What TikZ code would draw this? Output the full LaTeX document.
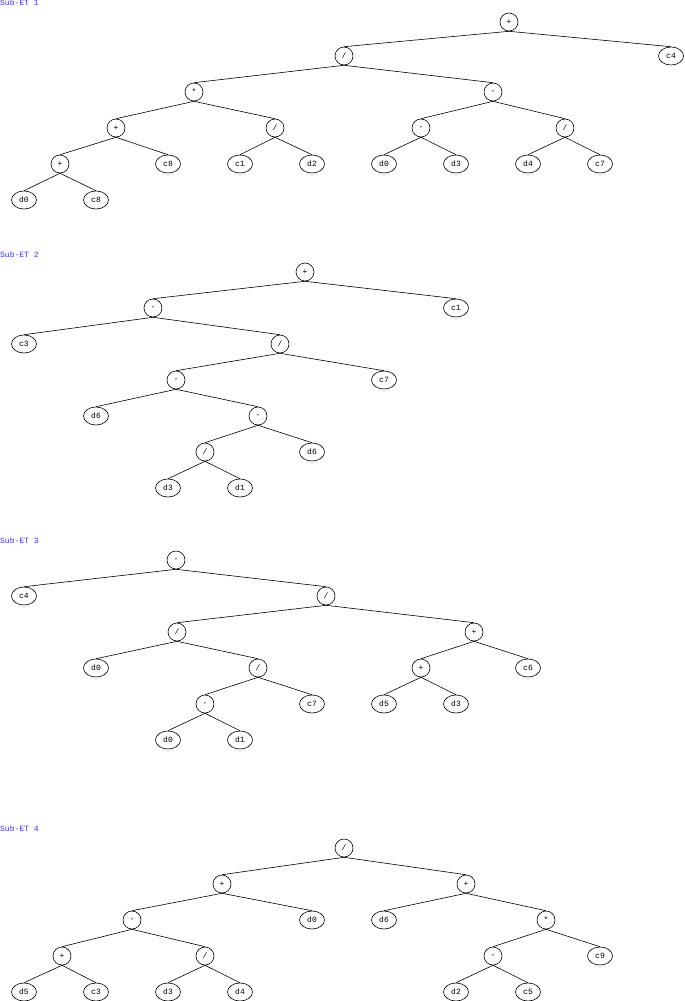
\documentclass[tikz,border=0pt]{standalone}
\usepackage{fontspec}
\setmonofont{Liberation Mono}
\usetikzlibrary{positioning,shapes}

\begin{document}
\begin{tikzpicture}[x=1pt, y=-1pt,
op/.style={circle, draw=black, semithick, minimum size=18pt, inner sep=0pt, font=\fontsize{8}{9}\selectfont\ttfamily},
leaf/.style={ellipse, draw=black, semithick, minimum width=25pt, minimum height=18pt, inner sep=0pt, font=\fontsize{8}{9}\selectfont\ttfamily},
title/.style={anchor=north west, inner sep=0pt, text=blue!80, font=\fontsize{8}{9}\selectfont\ttfamily},
edge/.style={black, semithick},
]
\useasboundingbox (0,0) rectangle (685,1001);

%Sub-ET 1
\node[title] (t1) at (0,0) {Sub-ET 1};
\node[op] (a1) at (509,22) {+};
\node[op] (a2) at (344,56) {/};
\node[leaf] (a3) at (671,56) {c4};
\node[op] (a4) at (194,92) {*};
\node[op] (a5) at (493,92) {-};
\node[op] (a6) at (116,128) {+};
\node[op] (a7) at (275,128) {/};
\node[op] (a8) at (421,128) {-};
\node[op] (a9) at (565,128) {/};
\node[op] (a10) at (60,164) {+};
\node[leaf] (a11) at (168,164) {c8};
\node[leaf] (a12) at (240,164) {c1};
\node[leaf] (a13) at (312,164) {d2};
\node[leaf] (a14) at (384,164) {d0};
\node[leaf] (a15) at (456,164) {d3};
\node[leaf] (a16) at (528,164) {d4};
\node[leaf] (a17) at (600,164) {c7};
\node[leaf] (a18) at (24,200) {d0};
\node[leaf] (a19) at (96,200) {c8};
\foreach \p/\c in {a1/a2,a1/a3,a2/a4,a2/a5,a4/a6,a4/a7,a5/a8,a5/a9,a6/a10,a6/a11,a7/a12,a7/a13,a8/a14,a8/a15,a9/a16,a9/a17,a10/a18,a10/a19}
  \draw[edge] (\p.south) -- (\c.north);

%Sub-ET 2
\node[title] (t2) at (0,251) {Sub-ET 2};
\node[op] (b1) at (305,272) {+};
\node[op] (b2) at (153,308) {-};
\node[leaf] (b3) at (456,308) {c1};
\node[leaf] (b4) at (24,344) {c3};
\node[op] (b5) at (280,344) {/};
\node[op] (b6) at (176,380) {-};
\node[leaf] (b7) at (384,380) {c7};
\node[leaf] (b8) at (96,416) {d6};
\node[op] (b9) at (258,416) {-};
\node[op] (b10) at (205,452) {/};
\node[leaf] (b11) at (312,452) {d6};
\node[leaf] (b12) at (168,488) {d3};
\node[leaf] (b13) at (240,488) {d1};
\foreach \p/\c in {b1/b2,b1/b3,b2/b4,b2/b5,b5/b6,b5/b7,b6/b8,b6/b9,b9/b10,b9/b11,b10/b12,b10/b13}
  \draw[edge] (\p.south) -- (\c.north);

%Sub-ET 3
\node[title] (t3) at (0,537) {Sub-ET 3};
\node[op] (c1) at (176,560) {-};
\node[leaf] (c2) at (24,596) {c4};
\node[op] (c3) at (326,596) {/};
\node[op] (c4) at (177,632) {/};
\node[op] (c5) at (474,632) {+};
\node[leaf] (c6) at (96,668) {d0};
\node[op] (c7) at (258,668) {/};
\node[op] (c8) at (421,668) {+};
\node[leaf] (c9) at (528,668) {c6};
\node[op] (c10) at (205,704) {-};
\node[leaf] (c11) at (312,704) {c7};
\node[leaf] (c12) at (384,704) {d5};
\node[leaf] (c13) at (456,704) {d3};
\node[leaf] (c14) at (168,740) {d0};
\node[leaf] (c15) at (240,740) {d1};
\foreach \p/\c in {c1/c2,c1/c3,c3/c4,c3/c5,c4/c6,c4/c7,c5/c8,c5/c9,c7/c10,c7/c11,c8/c12,c8/c13,c10/c14,c10/c15}
  \draw[edge] (\p.south) -- (\c.north);

%Sub-ET 4
\node[title] (t4) at (0,825) {Sub-ET 4};
\node[op] (d1) at (344,848) {/};
\node[op] (d2) at (222,884) {+};
\node[op] (d3) at (466,884) {+};
\node[op] (d4) at (132,920) {-};
\node[leaf] (d5) at (312,920) {d0};
\node[leaf] (d6) at (384,920) {d6};
\node[op] (d7) at (546,920) {*};
\node[op] (d8) at (62,956) {+};
\node[op] (d9) at (205,956) {/};
\node[op] (d10) at (493,956) {-};
\node[leaf] (d11) at (600,956) {c9};
\node[leaf] (d12) at (24,992) {d5};
\node[leaf] (d13) at (96,992) {c3};
\node[leaf] (d14) at (168,992) {d3};
\node[leaf] (d15) at (240,992) {d4};
\node[leaf] (d16) at (456,992) {d2};
\node[leaf] (d17) at (528,992) {c5};
\foreach \p/\c in {d1/d2,d1/d3,d2/d4,d2/d5,d3/d6,d3/d7,d4/d8,d4/d9,d7/d10,d7/d11,d8/d12,d8/d13,d9/d14,d9/d15,d10/d16,d10/d17}
  \draw[edge] (\p.south) -- (\c.north);
\end{tikzpicture}
\end{document}
